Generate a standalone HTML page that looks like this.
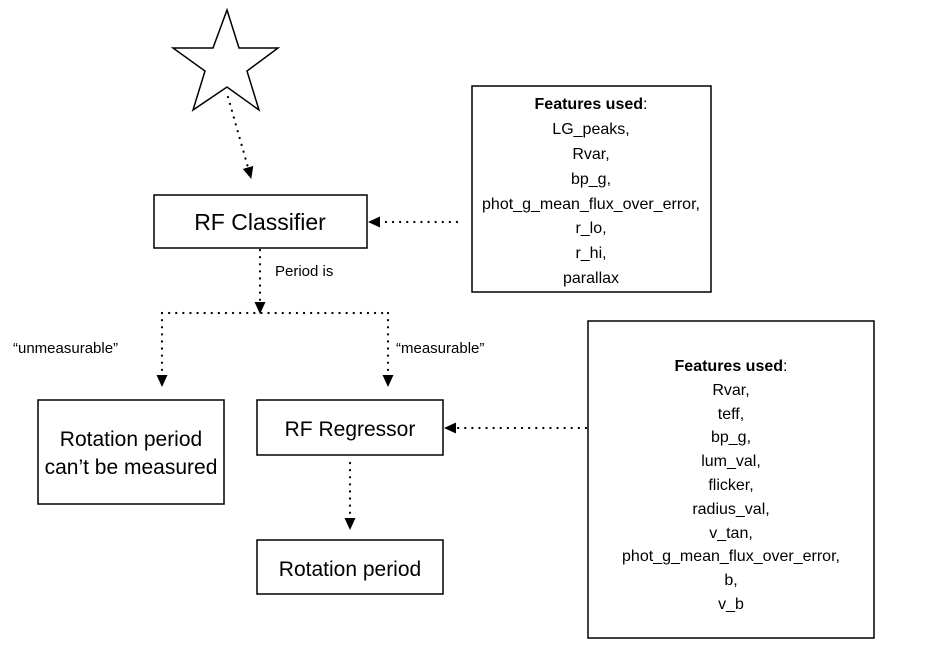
<!DOCTYPE html>
<html><head><meta charset="utf-8"><style>
html,body{margin:0;padding:0;background:#fff;}
svg{display:block;font-family:"Liberation Sans",Arial,sans-serif;}
</style></head><body>
<svg width="928" height="646" viewBox="0 0 928 646" xmlns="http://www.w3.org/2000/svg">
<defs>
<marker id="ah" markerWidth="12" markerHeight="12" refX="11" refY="6" orient="auto" markerUnits="userSpaceOnUse">
<path d="M0,0.5 L12,6 L0,11.5 z" fill="#000"/>
</marker>
</defs>
<g fill="none" stroke="#000" stroke-width="1.5">
<polygon points="227,10 239,48 278,48 247,71 259,110 227,87 193,110 205,71 173,48 213,48" fill="#fff"/>
<rect x="154" y="195" width="213" height="53"/>
<rect x="472" y="86" width="239" height="206"/>
<rect x="38" y="400" width="186" height="104"/>
<rect x="257" y="400" width="186" height="55"/>
<rect x="257" y="540" width="186" height="54"/>
<rect x="588" y="321" width="286" height="317"/>
</g>
<g fill="none" stroke="#000" stroke-width="2.2" stroke-dasharray="0.1 7" stroke-linecap="round">
<path d="M228,97 L251,178" marker-end="url(#ah)"/>
<path d="M457,222 L369,222" marker-end="url(#ah)"/>
<path d="M260,250 L260,313" marker-end="url(#ah)"/>
<path d="M162,313 L388,313"/>
<path d="M162,313 L162,386" marker-end="url(#ah)"/>
<path d="M388,313 L388,386" marker-end="url(#ah)"/>
<path d="M586,428 L445,428" marker-end="url(#ah)"/>
<path d="M350,463 L350,529" marker-end="url(#ah)"/>
</g>
<g fill="#000" text-anchor="middle" font-size="21">
<text x="260" y="230" font-size="23">RF Classifier</text>
<text x="131" y="446">Rotation period</text>
<text x="131" y="474">can’t be measured</text>
<text x="350" y="436">RF Regressor</text>
<text x="350" y="576">Rotation period</text>
</g>
<g fill="#000" font-size="15">
<text x="275" y="276">Period is</text>
<text x="13" y="353">“unmeasurable”</text>
<text x="396" y="353">“measurable”</text>
</g>
<g fill="#000" text-anchor="middle" font-size="16">
<text x="591" y="109"><tspan font-weight="bold">Features used</tspan>:</text>
<text x="591" y="134">LG_peaks,</text>
<text x="591" y="159">Rvar,</text>
<text x="591" y="184">bp_g,</text>
<text x="591" y="209">phot_g_mean_flux_over_error,</text>
<text x="591" y="233">r_lo,</text>
<text x="591" y="258">r_hi,</text>
<text x="591" y="283">parallax</text>
</g>
<g fill="#000" text-anchor="middle" font-size="16">
<text x="731" y="371"><tspan font-weight="bold">Features used</tspan>:</text>
<text x="731" y="395">Rvar,</text>
<text x="731" y="419">teff,</text>
<text x="731" y="442">bp_g,</text>
<text x="731" y="466">lum_val,</text>
<text x="731" y="490">flicker,</text>
<text x="731" y="514">radius_val,</text>
<text x="731" y="538">v_tan,</text>
<text x="731" y="561">phot_g_mean_flux_over_error,</text>
<text x="731" y="585">b,</text>
<text x="731" y="609">v_b</text>
</g>
</svg>
</body></html>
